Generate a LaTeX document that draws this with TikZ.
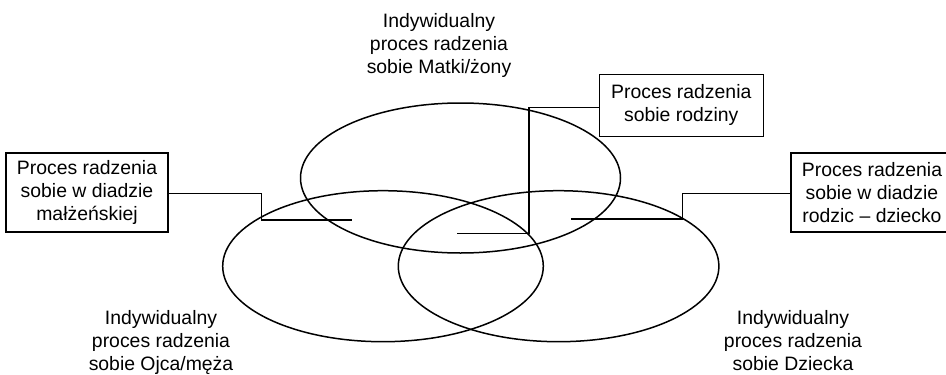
\documentclass[tikz,border=0pt]{standalone}
\usepackage{fontspec}
\setmainfont{Liberation Sans}
\begin{document}
\begin{tikzpicture}[x=1pt,y=-1pt,
  lbl/.style={align=center,inner sep=0pt,font=\fontsize{19.4}{23}\selectfont},
  boxnode/.style={draw,line width=1.4pt,align=center,inner sep=0pt,font=\fontsize{19.4}{23}\selectfont},
  circ/.style={draw,line width=1.5pt},
  conn/.style={draw,line width=1.5pt}]
\useasboundingbox (0,0) rectangle (946,375);
\clip (0,0) rectangle (946,375);
% ellipses
\draw[circ] (460.5,178) ellipse [x radius=160, y radius=75];
\draw[circ] (383,266.2) ellipse [x radius=160.3, y radius=75.5];
\draw[circ] (558.6,266.2) ellipse [x radius=160.3, y radius=75.5];
% labels
\node[lbl] (matka) at (439,45) {Indywidualny\\proces radzenia\\sobie Matki/żony};
\node[lbl] (ojciec) at (161,342.5) {Indywidualny\\proces radzenia\\sobie Ojca/męża};
\node[lbl] (dziecko) at (793,341) {Indywidualny\\proces radzenia\\sobie Dziecka};
% boxes
\node[boxnode,minimum width=162pt,minimum height=79pt] (diada) at (87,192.5) {Proces radzenia\\sobie w diadzie\\małżeńskiej};
\node[boxnode,minimum width=164pt,minimum height=62pt] (rodzina) at (681.3,105.3) {Proces radzenia\\sobie rodziny};
\node[boxnode,minimum width=162pt,minimum height=79pt] (rodzic) at (872,192.5) {Proces radzenia\\sobie w diadzie\\rodzic – dziecko};
% connector end points
\coordinate (pD) at (351.7,220);
\coordinate (pR) at (456.7,233.3);
\coordinate (pC) at (570.7,219);
% connectors
\draw[conn] ([yshift=-0.8pt]diada.east) -| (261.7,220) -- (pD);
\draw[conn] ([yshift=-2.4pt]rodzina.west) -| (529,233.3) -- (pR);
\draw[conn] ([yshift=-0.8pt]rodzic.west) -| (682.3,219) -- (pC);
\end{tikzpicture}
\end{document}
